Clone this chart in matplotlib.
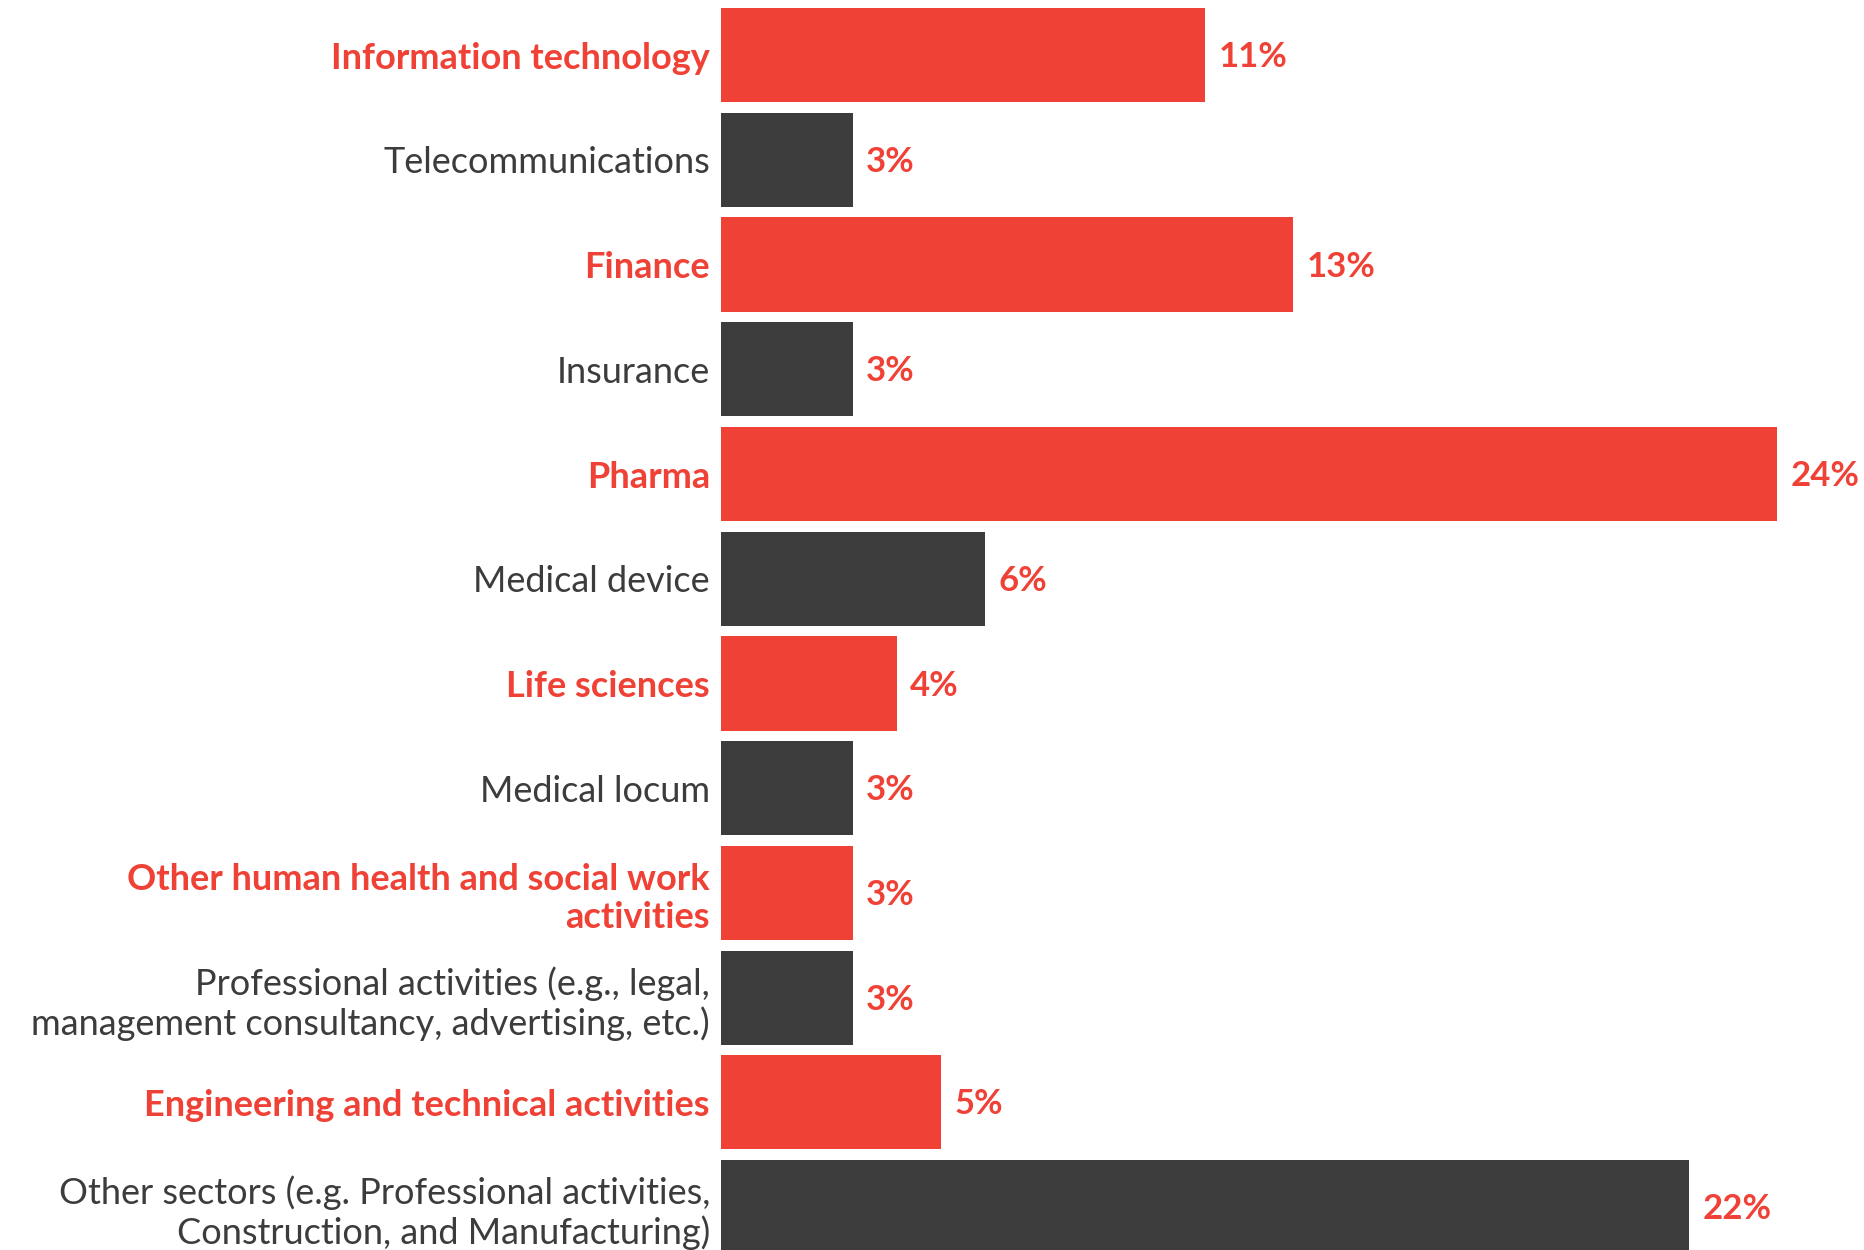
import matplotlib.pyplot as plt

plt.rcParams['font.family'] = ['Lato', 'DejaVu Sans']

sectors = [
    "Information technology",
    "Telecommunications",
    "Finance",
    "Insurance",
    "Pharma",
    "Medical device",
    "Life sciences",
    "Medical locum",
    "Other human health and social work\nactivities",
    "Professional activities (e.g., legal,\nmanagement consultancy, advertising, etc.)",
    "Engineering and technical activities",
    "Other sectors (e.g. Professional activities,\nConstruction, and Manufacturing)",
]
shares = [11, 3, 13, 3, 24, 6, 4, 3, 3, 3, 5, 22]
highlight = [True, False, True, False, True, False, True, False, True, False, True, False]

RED = "#EF4136"
DARK = "#3C3C3C"

fig = plt.figure(figsize=(18.65, 12.5), dpi=100)
ax = fig.add_axes([721 / 1865, 0, 1 - 721 / 1865, 1])

ypos = list(range(len(sectors)))
colors = [RED if h else DARK for h in highlight]
ax.barh(ypos, shares, height=0.9, color=colors)

# percentage labels at the end of each bar
for y, v in zip(ypos, shares):
    ax.text(v + 0.3, y + 0.02, f"{v}%", va="center", ha="left",
            fontsize=25, fontweight="bold", color=RED)

ax.set_yticks(ypos)
ax.set_yticklabels(sectors, fontsize=26, linespacing=1.2)
for lab, h in zip(ax.get_yticklabels(), highlight):
    lab.set_color(RED if h else DARK)
    lab.set_fontweight("bold" if h else "normal")
ax.tick_params(axis="y", length=0, pad=8)
ax.tick_params(axis="x", bottom=False, labelbottom=False)

ax.set_xlim(0, (1865 - 721) / 44)
ax.set_ylim(11.41, -0.527)
for s in ax.spines.values():
    s.set_visible(False)

fig.savefig("out.png", dpi=100)
